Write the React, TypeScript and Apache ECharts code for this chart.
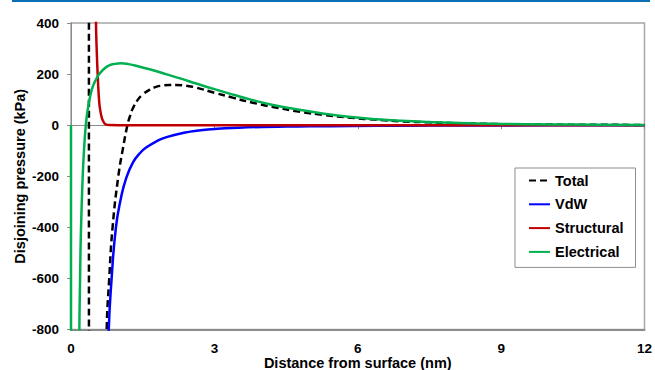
import React, { useEffect, useRef } from "react";
import * as echarts from "echarts";

const seriesNames = ["Total", "VdW", "Structural", "Electrical"];

const totalX = [0.3, 0.365, 0.385, 0.55, 0.7, 0.747, 0.8, 0.87, 0.99, 1.09, 1.18, 1.24, 1.3, 1.4, 1.5, 1.64, 1.78, 1.92, 2.06, 2.2, 2.41, 2.62, 3.0, 3.4, 3.76, 4.2, 4.81, 5.3, 5.86, 6.4, 6.91, 7.5, 7.97, 8.5, 9.02, 10, 11, 12];
const totalY = [6000, 3000, -3000, -5000, -1400, -800, -600, -400, -200, -88, 0, 38, 68, 100, 120, 138, 150, 155, 157, 157, 154, 147, 127, 107, 90, 72, 52, 40, 29, 21, 15, 11, 8, 6, 4, 2.5, 1.5, 1];

const vdwX = [0.6, 0.72, 0.79, 0.85, 0.94, 1.04, 1.15, 1.3, 1.45, 1.57, 1.78, 2.0, 2.36, 2.71, 3.06, 3.5, 4.0, 4.5, 5.0, 5.86, 7, 8, 10, 12];
const vdwY = [-4000, -1300, -800, -600, -400, -290, -210, -145, -108, -88, -64, -47, -30, -20, -14, -10, -7, -5.5, -4.5, -3.2, -2, -1.4, -0.8, -0.4];

const structX = [0.45, 0.5, 0.523, 0.537, 0.558, 0.59, 0.62, 0.65, 0.69, 0.73, 0.8, 1.0, 12];
const structY = [3000, 900, 400, 300, 200, 91, 50, 26, 10, 3, 0.5, 0, 0];

const elecX = [0, 0.005, 0.12, 0.175, 0.19, 0.21, 0.245, 0.275, 0.31, 0.35, 0.4, 0.45, 0.52, 0.6, 0.7, 0.8, 0.92, 1.05, 1.2, 1.4, 1.7, 2.0, 2.3, 2.62, 3.0, 3.4, 3.76, 4.2, 4.81, 5.3, 5.86, 6.4, 6.91, 7.5, 7.97, 8.5, 9.02, 10, 11, 12];
const elecY = [0, -30000, -2500, -800, -600, -400, -200, -90, 0, 60, 112, 148, 178, 202, 222, 234, 240, 242, 239, 231, 216, 199, 182, 163, 141, 119, 100, 80, 59, 45, 32, 23, 17, 12, 9, 7, 5, 3, 2, 1];

const xMin = 0;
const xMax = 12;
const xStep = 3;
const yMin = -800;
const yMax = 400;
const yStep = 200;

const pairs = (xs: number[], ys: number[]) => xs.map((x, i) => [x, ys[i]]);

export default function App() {
  const ref = useRef<HTMLDivElement>(null);
  useEffect(() => {
    if (!ref.current) return;
    const chart = echarts.init(ref.current, null, { renderer: "svg" });
    const font = "'Liberation Sans', Arial, sans-serif";
    const lbl = { color: "#000", fontWeight: "bold", fontSize: 13.5, fontFamily: font };
    const nameLbl = { color: "#000", fontWeight: "bold", fontSize: 14.5, fontFamily: font };
    const colors = ["#000000", "#0000ff", "#c00000", "#00b050"];
    const datasets = [pairs(totalX, totalY), pairs(vdwX, vdwY), pairs(structX, structY), pairs(elecX, elecY)];
    chart.setOption({
      animation: false,
      backgroundColor: "#ffffff",
      textStyle: { fontFamily: font },
      graphic: [
        { type: "rect", shape: { x: 12, y: 0, width: 638, height: 2 }, style: { fill: "#0a6fb7" } },
      ],
      grid: {
        left: 71, right: 10.5, top: 23, bottom: 40.5,
        outerBoundsMode: "none", containLabel: false,
        show: true, borderColor: "#a6a6a6", borderWidth: 1.5, backgroundColor: "transparent",
      },
      xAxis: [
        {
          type: "value", min: xMin, max: xMax, interval: xStep, position: "bottom",
          axisLine: { onZero: false, lineStyle: { color: "#8c8c8c", width: 2 } },
          axisTick: { show: false }, splitLine: { show: false },
          axisLabel: { ...lbl, margin: 12 },
          name: "Distance from surface (nm)", nameLocation: "middle", nameGap: 26,
          nameMoveOverlap: false,
          nameTextStyle: { ...nameLbl },
        },
        {
          type: "value", min: xMin, max: xMax, interval: xStep, position: "top",
          axisLine: { onZero: true, lineStyle: { color: "#8c8c8c", width: 1 } },
          axisTick: { show: true, inside: true, length: 4, lineStyle: { color: "#8c8c8c" } },
          axisLabel: { show: false }, splitLine: { show: false },
        },
      ],
      yAxis: {
        type: "value", min: yMin, max: yMax, interval: yStep,
        axisLine: { show: true, onZero: false, lineStyle: { color: "#8c8c8c", width: 1 } },
        axisTick: { show: true, length: 4, lineStyle: { color: "#8c8c8c" } },
        splitLine: { show: false },
        axisLabel: { ...lbl, margin: 12 },
        name: "Disjoining pressure (kPa)", nameLocation: "middle", nameGap: 44,
        nameMoveOverlap: false,
        nameTextStyle: { ...nameLbl },
      },
      legend: {
        orient: "vertical", left: 515, top: 168,
        padding: [5, 12, 8, 13], itemGap: 8.8, itemWidth: 21, itemHeight: 14, itemTextGap: 2,
        borderColor: "#8c8c8c", borderWidth: 1, backgroundColor: "#ffffff",
        textStyle: { ...nameLbl },
        itemStyle: { opacity: 0 },
        data: seriesNames,
      },
      series: seriesNames.map((name, i) => ({
        name, type: "line", data: datasets[i], symbol: "none", clip: true,
        smooth: 0.5,
        xAxisIndex: 0, yAxisIndex: 0,
        lineStyle: { color: colors[i], width: 2.5, type: i === 0 ? [7, 4] : "solid" },
        itemStyle: { color: colors[i] },
      })),
    });
    return () => chart.dispose();
  }, []);
  return <div ref={ref} style={{ position: "absolute", left: 0, top: 0, width: 655, height: 370 }} />;
}
